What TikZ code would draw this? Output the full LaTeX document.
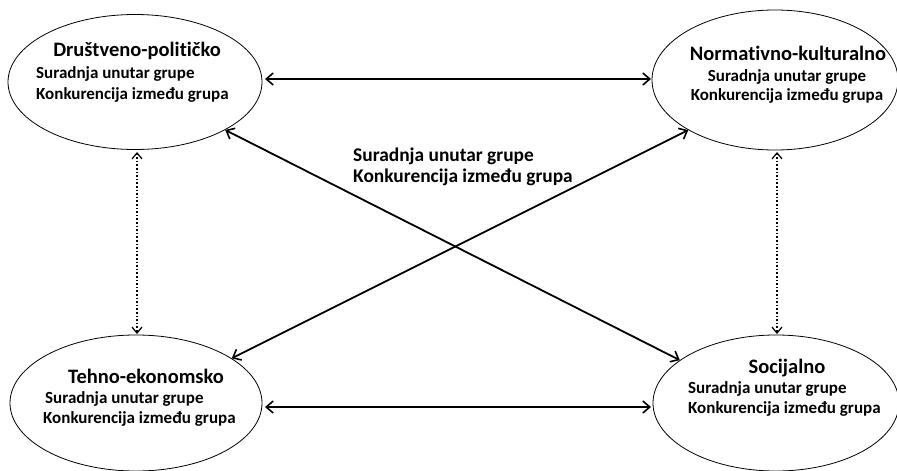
\documentclass[tikz,border=0pt]{standalone}
\usepackage{fontspec}
\setmainfont{Carlito}[Ligatures=NoCommon]
\usetikzlibrary{shapes.geometric,arrows.meta}
\begin{document}
\begin{tikzpicture}[x=1pt,y=-1pt,
  oval/.style={ellipse,draw,line width=0.8pt,inner sep=0pt},
  lbl/.style={font=\bfseries\fontsize{17}{20}\selectfont,inner sep=0pt,anchor=base west},
  ttl/.style={font=\bfseries\fontsize{20.5}{24}\selectfont,inner sep=0pt,anchor=base},
  clbl/.style={font=\bfseries\fontsize{19.4}{23}\selectfont,inner sep=0pt,anchor=base west},
  conn/.style={line width=1.8pt,{Straight Barb[length=7pt,width=12pt,line width=1.6pt]}-{Straight Barb[length=7pt,width=12pt,line width=1.6pt]}},
  dconn/.style={line width=1.6pt,dotted,{Straight Barb[length=6pt,width=10pt,line width=1.2pt,line cap=butt]}-{Straight Barb[length=6pt,width=10pt,line width=1.2pt]}}]
\useasboundingbox (0,0) rectangle (897,471);
\node[oval,minimum width=254pt,minimum height=135pt] (tl) at (135,82) {};
\node[oval,minimum width=246pt,minimum height=140pt] (tr) at (775,80) {};
\node[oval,minimum width=252pt,minimum height=136pt] (bl) at (136,403) {};
\node[oval,minimum width=246pt,minimum height=136pt] (br) at (776,403) {};
% texts
\node[ttl] (tlt) at (137,56) {Društveno-političko};
\node[lbl] (tl1) at (36,78) {Suradnja unutar grupe};
\node[lbl] (tl2) at (36,99) {Konkurencija između grupa};
\node[ttl] (trt) at (788,60) {Normativno-kulturalno};
\node[lbl,anchor=base] (tr1) at (787,81) {Suradnja unutar grupe};
\node[lbl,anchor=base] (tr2) at (787,100) {Konkurencija između grupa};
\node[ttl] (blt) at (146,383) {Tehno-ekonomsko};
\node[lbl] (bl1) at (45,403) {Suradnja unutar grupe};
\node[lbl] (bl2) at (43,423) {Konkurencija između grupa};
\node[ttl] (brt) at (787,373) {Socijalno};
\node[lbl] (br1) at (688,393) {Suradnja unutar grupe};
\node[lbl] (br2) at (688,413) {Konkurencija između grupa};
\node[clbl] (c1) at (353,161) {Suradnja unutar grupe};
\node[clbl] (c2) at (353,182) {Konkurencija između grupa};
% connectors
\coordinate (a1) at (265,79);
\coordinate (a2) at (651,79);
\coordinate (b1) at (265,407);
\coordinate (b2) at (651,407);
\draw[conn] (a1) -- (a2);
\draw[conn] (b1) -- (b2);
\draw[conn] (tl.-28) -- (br.156);
\draw[conn] (tr.-150) -- (bl.25);
\coordinate (d1) at (137,152);
\coordinate (d2) at (137,334);
\coordinate (e1) at (777,152);
\coordinate (e2) at (777,334);
\draw[dconn] (d1) -- (d2);
\draw[dconn] (e1) -- (e2);
\end{tikzpicture}
\end{document}
